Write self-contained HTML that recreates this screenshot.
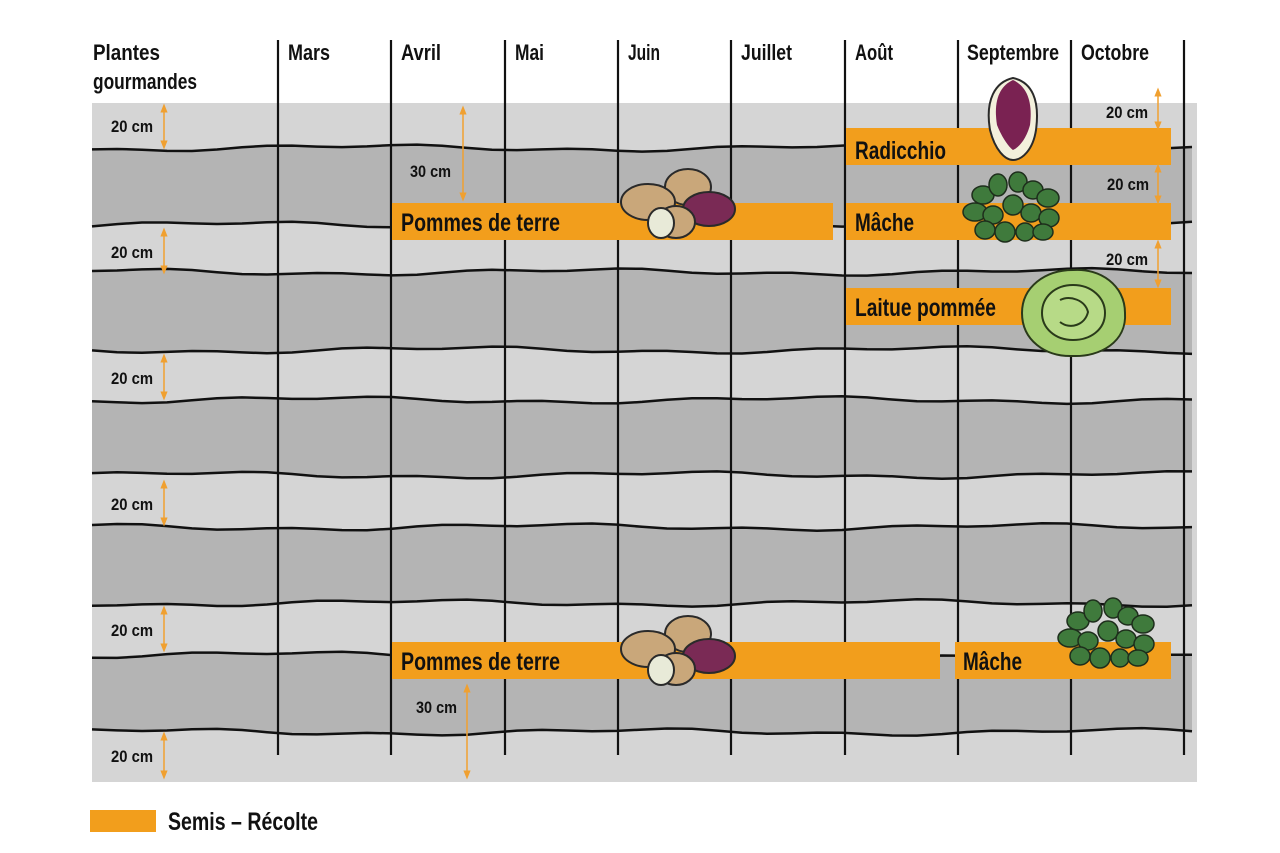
<!DOCTYPE html>
<html><head><meta charset="utf-8"><style>
body{margin:0;background:#fff;width:1280px;height:853px;overflow:hidden}
svg{display:block}
text{font-family:"Liberation Sans",sans-serif;font-weight:bold;fill:#111}
</style></head><body>
<svg id="s" width="1280" height="853" viewBox="0 0 1280 853" xmlns="http://www.w3.org/2000/svg">
<defs>
<marker id="ah" viewBox="0 0 10 10" refX="5" refY="5" markerWidth="6" markerHeight="6" orient="auto-start-reverse"><path d="M0,1 L10,5 L0,9 z" fill="#f0a030"/></marker>
<g id="pot">
<ellipse cx="688" cy="187" rx="23" ry="18" fill="#c9a77a" stroke="#2a2a2a" stroke-width="2"/>
<ellipse cx="648" cy="202" rx="27" ry="18" fill="#c9a77a" stroke="#2a2a2a" stroke-width="2"/>
<ellipse cx="709" cy="209" rx="26" ry="17" fill="#7a2a55" stroke="#2a2a2a" stroke-width="2"/>
<ellipse cx="676" cy="222" rx="19" ry="16" fill="#c9a77a" stroke="#2a2a2a" stroke-width="2"/>
<ellipse cx="661" cy="223" rx="13" ry="15" fill="#e8ead8" stroke="#2a2a2a" stroke-width="2"/>
</g>
<g id="leaf">
<g fill="#3f7a3c" stroke="#1e2e1c" stroke-width="1.5">
<ellipse cx="-30" cy="-15" rx="11" ry="9"/><ellipse cx="-15" cy="-25" rx="9" ry="11"/><ellipse cx="5" cy="-28" rx="9" ry="10"/>
<ellipse cx="20" cy="-20" rx="10" ry="9"/><ellipse cx="35" cy="-12" rx="11" ry="9"/><ellipse cx="-38" cy="2" rx="12" ry="9"/>
<ellipse cx="-20" cy="5" rx="10" ry="9"/><ellipse cx="0" cy="-5" rx="10" ry="10"/><ellipse cx="18" cy="3" rx="10" ry="9"/>
<ellipse cx="36" cy="8" rx="10" ry="9"/><ellipse cx="-28" cy="20" rx="10" ry="9"/><ellipse cx="-8" cy="22" rx="10" ry="10"/>
<ellipse cx="12" cy="22" rx="9" ry="9"/><ellipse cx="30" cy="22" rx="10" ry="8"/>
</g></g>
</defs>
<rect x="92" y="103" width="1105" height="679" fill="#d5d5d5"/>
<g id="bands"></g>
<g id="lines" fill="none" stroke="#111" stroke-width="2.5"></g>
<g stroke="#111" stroke-width="2.2">
<line x1="278" y1="40" x2="278" y2="755"/><line x1="391" y1="40" x2="391" y2="755"/><line x1="505" y1="40" x2="505" y2="755"/>
<line x1="618" y1="40" x2="618" y2="755"/><line x1="731" y1="40" x2="731" y2="755"/><line x1="845" y1="40" x2="845" y2="755"/>
<line x1="958" y1="40" x2="958" y2="755"/><line x1="1071" y1="40" x2="1071" y2="755"/><line x1="1184" y1="40" x2="1184" y2="755"/>
</g>
<g font-size="22" lengthAdjust="spacingAndGlyphs">
<text x="93" y="60" textLength="67" lengthAdjust="spacingAndGlyphs">Plantes</text><text x="93" y="89" textLength="104" lengthAdjust="spacingAndGlyphs">gourmandes</text>
<text x="288" y="60" textLength="42" lengthAdjust="spacingAndGlyphs">Mars</text><text x="401" y="60" textLength="40" lengthAdjust="spacingAndGlyphs">Avril</text><text x="515" y="60" textLength="29" lengthAdjust="spacingAndGlyphs">Mai</text><text x="628" y="60" textLength="32" lengthAdjust="spacingAndGlyphs">Juin</text>
<text x="741" y="60" textLength="51" lengthAdjust="spacingAndGlyphs">Juillet</text><text x="855" y="60" textLength="38" lengthAdjust="spacingAndGlyphs">Août</text><text x="967" y="60" textLength="92" lengthAdjust="spacingAndGlyphs">Septembre</text><text x="1081" y="60" textLength="68" lengthAdjust="spacingAndGlyphs">Octobre</text>
</g>
<g fill="#f29e1c">
<rect x="392" y="203" width="441" height="37"/><rect x="846" y="128" width="325" height="37"/>
<rect x="846" y="203" width="325" height="37"/><rect x="846" y="288" width="325" height="37"/>
<rect x="392" y="642" width="548" height="37"/><rect x="955" y="642" width="216" height="37"/>
<rect x="90" y="810" width="66" height="22"/>
</g>
<g stroke="#f0a030" stroke-width="1.5" marker-start="url(#ah)" marker-end="url(#ah)">
<line x1="164" y1="108" x2="164" y2="145"/><line x1="164" y1="232" x2="164" y2="270"/><line x1="164" y1="358" x2="164" y2="396"/>
<line x1="164" y1="484" x2="164" y2="522"/><line x1="164" y1="610" x2="164" y2="648"/><line x1="164" y1="736" x2="164" y2="775"/>
<line x1="463" y1="110" x2="463" y2="197"/><line x1="467" y1="688" x2="467" y2="775"/>
<line x1="1158" y1="92" x2="1158" y2="126"/><line x1="1158" y1="168" x2="1158" y2="200"/><line x1="1158" y1="244" x2="1158" y2="284"/>
</g>
<g font-size="17">
<text x="111" y="132" textLength="42" lengthAdjust="spacingAndGlyphs">20 cm</text><text x="111" y="258" textLength="42" lengthAdjust="spacingAndGlyphs">20 cm</text><text x="111" y="384" textLength="42" lengthAdjust="spacingAndGlyphs">20 cm</text>
<text x="111" y="510" textLength="42" lengthAdjust="spacingAndGlyphs">20 cm</text><text x="111" y="636" textLength="42" lengthAdjust="spacingAndGlyphs">20 cm</text><text x="111" y="762" textLength="42" lengthAdjust="spacingAndGlyphs">20 cm</text>
<text x="410" y="177" textLength="41" lengthAdjust="spacingAndGlyphs">30 cm</text><text x="416" y="713" textLength="41" lengthAdjust="spacingAndGlyphs">30 cm</text>
<text x="1106" y="118" textLength="42" lengthAdjust="spacingAndGlyphs">20 cm</text><text x="1107" y="190" textLength="42" lengthAdjust="spacingAndGlyphs">20 cm</text><text x="1106" y="265" textLength="42" lengthAdjust="spacingAndGlyphs">20 cm</text>
</g>
<use href="#pot"/><use href="#pot" transform="translate(0,447)"/>
<g>
<path d="M1013,78 C995,82 985,100 990,130 C995,150 1005,160 1013,160 C1022,160 1033,150 1036,130 C1040,100 1032,82 1013,78z" fill="#f3f0dc" stroke="#2a2a2a" stroke-width="2"/>
<path d="M1013,80 C1000,86 993,100 997,125 C1003,140 1010,148 1013,150 C1018,148 1026,140 1030,125 C1033,100 1026,86 1013,80z" fill="#7a2252"/>
</g>
<use href="#leaf" transform="translate(1013,210)"/>
<use href="#leaf" transform="translate(1108,636)"/>
<g stroke="#2a3a1a" stroke-width="2">
<path d="M1073,270 C1100,268 1125,285 1125,313 C1127,342 1100,357 1073,356 C1045,357 1022,340 1022,313 C1022,287 1045,270 1073,270z" fill="#a6cf72"/>
<path d="M1073,285 C1092,285 1105,298 1105,313 C1105,330 1090,340 1073,340 C1055,340 1042,328 1042,313 C1042,297 1055,285 1073,285z" fill="#bcdc8c" fill-opacity=".8"/>
<path d="M1060,300 C1070,295 1085,300 1088,312 C1085,325 1070,330 1060,322" fill="none"/>
</g>
<g font-size="25">
<text x="401" y="231" textLength="159" lengthAdjust="spacingAndGlyphs">Pommes de terre</text><text x="855" y="159" textLength="91" lengthAdjust="spacingAndGlyphs">Radicchio</text><text x="855" y="231" textLength="59" lengthAdjust="spacingAndGlyphs">Mâche</text>
<text x="855" y="316" textLength="141" lengthAdjust="spacingAndGlyphs">Laitue pommée</text><text x="401" y="670" textLength="159" lengthAdjust="spacingAndGlyphs">Pommes de terre</text><text x="963" y="670" textLength="59" lengthAdjust="spacingAndGlyphs">Mâche</text>
<text x="168" y="830" textLength="150" lengthAdjust="spacingAndGlyphs">Semis – Récolte</text>
</g>
</svg>
<script>
var NS="http://www.w3.org/2000/svg";
var ys=[148,225,272,350,400,475,527,603,655,732];
function wave(y,seed){var p=[];for(var x=92;x<=1197;x+=25){var d=Math.sin(x*0.013+seed)*2.5+Math.sin(x*0.041+seed*3)*1.5;p.push([x,y+d]);}return p;}
var waves=ys.map(function(y,i){return wave(y,i*1.7);});
var bands=document.getElementById("bands"),lines=document.getElementById("lines");
for(var i=0;i<ys.length;i+=2){var a=waves[i],b=waves[i+1];var d="M"+a.map(function(p){return p[0]+","+p[1].toFixed(1)}).join(" L");
for(var j=b.length-1;j>=0;j--)d+=" L"+b[j][0]+","+b[j][1].toFixed(1);d+="Z";
var e=document.createElementNS(NS,"path");e.setAttribute("d",d);e.setAttribute("fill","#b4b4b4");bands.appendChild(e);}
waves.forEach(function(a){var e=document.createElementNS(NS,"path");e.setAttribute("d","M"+a.map(function(p){return p[0]+","+p[1].toFixed(1)}).join(" L"));lines.appendChild(e);});
</script>
</body></html>
